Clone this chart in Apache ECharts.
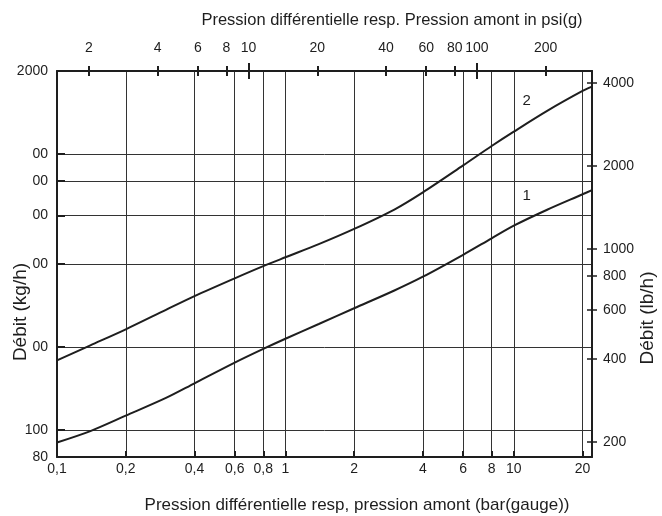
<!DOCTYPE html>
<html><head><meta charset="utf-8">
<script src="https://cdn.jsdelivr.net/npm/echarts@6/dist/echarts.min.js"></script>
<style>html,body{margin:0;padding:0;background:#fff}#c{width:662px;height:516px}</style>
</head><body><div id="c"></div>
<script>
// ---- data ----
const pressureBar = [0.1, 0.14, 0.2, 0.3, 0.4, 0.6, 0.8, 1, 1.4, 2, 3, 4, 6, 8, 10, 14, 20, 22];
const flowCurve2 = [179, 203, 232, 273, 306, 355, 393, 423, 472, 536, 630, 727, 910, 1070, 1206, 1434, 1693, 1755];
const flowCurve1 = [90.3, 99.3, 112.9, 130.9, 147.9, 175.7, 197, 214.4, 242.5, 276.5, 320.7, 359.8, 432, 495.7, 550.7, 629, 715.4, 741];

const barTicks = [0.1, 0.2, 0.4, 0.6, 0.8, 1, 2, 4, 6, 8, 10, 20];
const barLabels = ['0,1', '0,2', '0,4', '0,6', '0,8', '1', '2', '4', '6', '8', '10', '20'];
const psiTicks = [2, 4, 6, 8, 10, 20, 40, 60, 80, 100, 200];
const psiLabels = ['2', '4', '6', '8', '10', '20', '40', '60', '80', '100', '200'];
const psiMajorTicks = [10, 100];
const kgTicks = [80, 100, 200, 400, 600, 800, 1000, 2000];
const kgLabels = ['80', '100', '00', '00', '00', '00', '00', '2000'];
const lbTicks = [200, 400, 600, 800, 1000, 2000, 4000];
const lbLabels = ['200', '400', '600', '800', '1000', '2000', '4000'];

const curveLabels = ['1', '2'];
const curveLabelX = [11.4, 11.4];
const curveLabelY = [705, 1560];

const barMin = 0.1, barMax = 22;
const kgMin = 80, kgMax = 2000;
const PSI_PER_BAR = 14.5038;
const LB_PER_KG = 2.20462;

// ---- chart ----
const FONT = '"Liberation Sans Narrow", "Arial Narrow", "Liberation Sans", Arial, sans-serif';
const INK = '#1e1e1e';
function lookup(ticks, labels) {
  return function (v) {
    let best = 0, bd = Infinity;
    ticks.forEach((t, i) => { const d = Math.abs(Math.log(v) - Math.log(t)); if (d < bd) { bd = d; best = i; } });
    return labels[best];
  };
}
const chart = echarts.init(document.getElementById('c'), null, { renderer: 'canvas' });
const labelStyle = { color: INK, fontFamily: FONT, fontSize: 14 };
function hiddenAxisBase(extra) {
  return Object.assign({ type: 'log', logBase: 10, axisLine: { show: false }, axisLabel: { show: false }, splitLine: { show: false } }, extra);
}
const psiMin = barMin * PSI_PER_BAR, psiMax = barMax * PSI_PER_BAR;
const lbMin = kgMin * LB_PER_KG, lbMax = kgMax * LB_PER_KG;
chart.setOption({
  animation: false,
  backgroundColor: '#fff',
  grid: { left: 57, right: 70, top: 71, bottom: 59, containLabel: false },
  xAxis: [
    {
      type: 'log', logBase: 10, min: barMin, max: barMax, position: 'bottom',
      axisLine: { show: true, lineStyle: { color: INK, width: 2 } },
      axisTick: { show: true, inside: true, length: 6, customValues: barTicks, lineStyle: { color: INK, width: 2 } },
      axisLabel: Object.assign({ customValues: barTicks, formatter: lookup(barTicks, barLabels), margin: 5 }, labelStyle),
      splitLine: { show: true, lineStyle: { color: '#333', width: 1 } },
      minorTick: { show: false }, minorSplitLine: { show: false }
    },
    hiddenAxisBase({
      min: psiMin, max: psiMax, position: 'top',
      axisLine: { show: true, lineStyle: { color: INK, width: 2 } },
      axisTick: { show: true, customValues: psiTicks, length: 5, inside: false, lineStyle: { color: INK, width: 2 } },
      axisLabel: Object.assign({ show: true, customValues: psiTicks, formatter: lookup(psiTicks, psiLabels), margin: 16 }, labelStyle)
    }),
    hiddenAxisBase({
      min: psiMin, max: psiMax, position: 'top',
      axisTick: { show: true, customValues: psiTicks, length: 5, inside: true, lineStyle: { color: INK, width: 2 } }
    }),
    hiddenAxisBase({
      min: psiMin, max: psiMax, position: 'top',
      axisTick: { show: true, customValues: psiMajorTicks, length: 8, inside: false, lineStyle: { color: INK, width: 2 } }
    }),
    hiddenAxisBase({
      min: psiMin, max: psiMax, position: 'top',
      axisTick: { show: true, customValues: psiMajorTicks, length: 8, inside: true, lineStyle: { color: INK, width: 2 } }
    })
  ],
  yAxis: [
    {
      type: 'log', logBase: 10, min: kgMin, max: kgMax, position: 'left',
      axisLine: { show: true, lineStyle: { color: INK, width: 2 } },
      axisTick: { show: true, inside: true, length: 8, customValues: kgTicks, lineStyle: { color: INK, width: 2 } },
      axisLabel: Object.assign({ customValues: kgTicks, formatter: lookup(kgTicks, kgLabels), margin: 9 }, labelStyle),
      splitLine: { show: true, lineStyle: { color: '#333', width: 1 } },
      minorTick: { show: false }, minorSplitLine: { show: false }
    },
    hiddenAxisBase({
      min: lbMin, max: lbMax, position: 'right',
      axisLine: { show: true, lineStyle: { color: INK, width: 2 } },
      axisTick: { show: true, customValues: lbTicks, length: 5, inside: false, lineStyle: { color: INK, width: 1.5 } },
      axisLabel: Object.assign({ show: true, customValues: lbTicks, formatter: lookup(lbTicks, lbLabels), margin: 11 }, labelStyle)
    }),
    hiddenAxisBase({
      min: lbMin, max: lbMax, position: 'right',
      axisTick: { show: true, customValues: lbTicks, length: 5, inside: true, lineStyle: { color: INK, width: 1.5 } }
    })
  ],
  graphic: [
    { type: 'text', x: 392, y: 20, style: { text: 'Pression différentielle resp. Pression amont in psi(g)', fill: INK, font: '16.5px ' + FONT, align: 'center', verticalAlign: 'middle' } },
    { type: 'text', x: 357, y: 505, style: { text: 'Pression différentielle resp, pression amont (bar(gauge))', fill: INK, font: '17px ' + FONT, align: 'center', verticalAlign: 'middle' } },
    { type: 'text', x: 21, y: 312, rotation: Math.PI / 2, style: { text: 'Débit (kg/h)', fill: INK, font: '19px ' + FONT, align: 'center', verticalAlign: 'middle' } },
    { type: 'text', x: 648, y: 318, rotation: Math.PI / 2, style: { text: 'Débit (lb/h)', fill: INK, font: '19px ' + FONT, align: 'center', verticalAlign: 'middle' } }
  ],
  series: [
    {
      type: 'line', xAxisIndex: 0, yAxisIndex: 0, smooth: 0.3, symbol: 'none',
      lineStyle: { color: INK, width: 2 },
      data: pressureBar.map((x, i) => [x, flowCurve1[i]]),
      markPoint: { symbol: 'circle', symbolSize: 1, itemStyle: { color: 'rgba(0,0,0,0)' },
        label: { show: true, position: 'inside', color: INK, fontFamily: FONT, fontSize: 15, formatter: curveLabels[0] },
        data: [{ coord: [curveLabelX[0], curveLabelY[0]] }] }
    },
    {
      type: 'line', xAxisIndex: 0, yAxisIndex: 0, smooth: 0.3, symbol: 'none',
      lineStyle: { color: INK, width: 2 },
      data: pressureBar.map((x, i) => [x, flowCurve2[i]]),
      markPoint: { symbol: 'circle', symbolSize: 1, itemStyle: { color: 'rgba(0,0,0,0)' },
        label: { show: true, position: 'inside', color: INK, fontFamily: FONT, fontSize: 15, formatter: curveLabels[1] },
        data: [{ coord: [curveLabelX[1], curveLabelY[1]] }] }
    }
  ]
});
</script>
</body></html>
